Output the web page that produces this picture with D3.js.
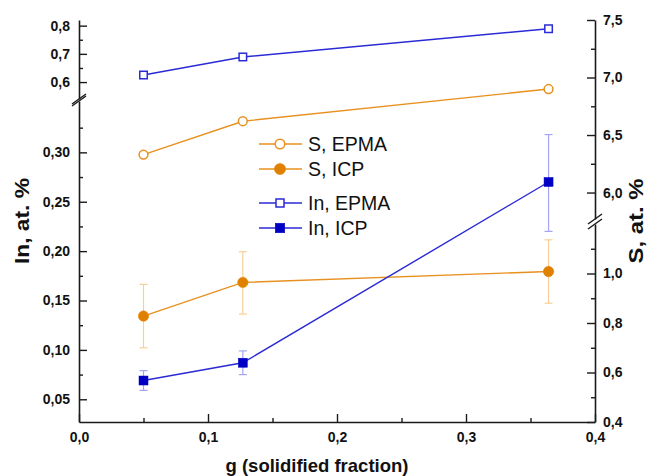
<!DOCTYPE html>
<html>
<head>
<meta charset="utf-8">
<script src="https://cdn.jsdelivr.net/npm/d3@7"></script>
<style>
body { margin: 0; background: #fff; }
text { font-family: Arial, "Liberation Sans", sans-serif; }
</style>
</head>
<body>
<div id="root"></div>
<script>
var width = 648;
var height = 476;

// data
var gValues = [0.05, 0.127, 0.364];

var inEpma = [0.625, 0.689, 0.789];
var inIcp = [0.069, 0.087, 0.270];
var inIcpLow = [0.059, 0.075, 0.220];
var inIcpHigh = [0.079, 0.099, 0.318];

var sEpma = [6.33, 6.62, 6.90];
var sIcp = [0.828, 0.964, 1.008];
var sIcpLow = [0.70, 0.836, 0.88];
var sIcpHigh = [0.956, 1.088, 1.136];

var legendNames = ["S, EPMA", "S, ICP", "In, EPMA", "In, ICP"];

var xTicks = [0, 0.1, 0.2, 0.3, 0.4];
var xMinor = [0.05, 0.15, 0.25, 0.35];
var leftLowTicks = [0.05, 0.10, 0.15, 0.20, 0.25, 0.30];
var leftLowMinor = [0.075, 0.125, 0.175, 0.225, 0.275, 0.325];
var leftHighTicks = [0.6, 0.7, 0.8];
var leftHighMinor = [0.65, 0.75];
var rightLowTicks = [0.4, 0.6, 0.8, 1.0];
var rightLowMinor = [0.5, 0.7, 0.9, 1.1];
var rightHighTicks = [6.0, 6.5, 7.0, 7.5];
var rightHighMinor = [6.25, 6.75, 7.25];

var orange = "#e8901e";
var orangeDark = "#e08000";
var orangeLight = "#f8cf98";
var blue = "#2a2ad6";
var blueDark = "#0000c4";
var blueLight = "#a4a4f2";
var axisColor = "#1a1a1a";

var locale = d3.formatLocale({decimal: ",", thousands: ".", grouping: [3], currency: ["", ""]});
var f1 = locale.format(".1f");
var f2 = locale.format(".2f");

var svg = d3.select("#root")
.append("svg")
.attr("width", width)
.attr("height", height);

var x = d3.scaleLinear().domain([0, 0.4]).range([79, 595]);

/* broken axes: two linear pieces on each side */
var yInLow = d3.scaleLinear().domain([0.027, 0.352]).range([422, 101]);
var yInHigh = d3.scaleLinear().domain([0.54, 0.82]).range([99, 20]);
var ySLow = d3.scaleLinear().domain([0.4, 1.2]).range([422, 224]);
var ySHigh = d3.scaleLinear().domain([5.77, 7.5]).range([219, 20]);

function styleAxis(g) {
	g.selectAll("path").attr("stroke", axisColor).attr("stroke-width", 1.6);
	g.selectAll("line").attr("stroke", axisColor).attr("stroke-width", 1.4);
	g.selectAll("text")
	.attr("font-size", "14px")
	.attr("font-weight", "bold")
	.attr("fill", "#111");
}

function drawAxis(axisFn, scale, major, minor, fmt, transform, pad) {
	var g = svg.append("g").attr("transform", transform);
	g.call(axisFn(scale).tickValues(major).tickFormat(fmt).tickSize(-8).tickSizeOuter(0).tickPadding(pad))
	.call(styleAxis);
	var m = svg.append("g").attr("transform", transform);
	m.call(axisFn(scale).tickValues(minor).tickFormat("").tickSize(-4).tickSizeOuter(0))
	.call(styleAxis);
	m.select("path").remove();
	return g;
}

drawAxis(d3.axisBottom, x, xTicks, xMinor, f1, "translate(0,422)", 10);
drawAxis(d3.axisLeft, yInLow, leftLowTicks, leftLowMinor, f2, "translate(79,0)", 9);
drawAxis(d3.axisLeft, yInHigh, leftHighTicks, leftHighMinor, f1, "translate(79,0)", 9);
drawAxis(d3.axisRight, ySLow, rightLowTicks, rightLowMinor, f1, "translate(595,0)", 8);
drawAxis(d3.axisRight, ySHigh, rightHighTicks, rightHighMinor, f1, "translate(595,0)", 8);

// break marks
function breakMark(cx, y0, y1) {
	[y0, y1].forEach(function(yy) {
		svg.append("line")
		.attr("x1", cx - 7).attr("y1", yy + 5)
		.attr("x2", cx + 7).attr("y2", yy - 5)
		.attr("stroke", axisColor)
		.attr("stroke-width", 1.4);
	});
}
breakMark(79, yInHigh.range()[0], yInLow.range()[1]);
breakMark(595, ySHigh.range()[0], ySLow.range()[1]);

// axis titles
svg.append("text")
.attr("x", (x.range()[0] + x.range()[1]) / 2 - 20)
.attr("y", 472)
.attr("text-anchor", "middle")
.attr("font-size", "18.5px")
.attr("font-weight", "bold")
.attr("fill", "#111")
.text("g (solidified fraction)");

svg.append("text")
.attr("transform", "translate(29,221) rotate(-90)")
.attr("text-anchor", "middle")
.attr("font-size", "19.5px")
.attr("font-weight", "bold")
.attr("fill", "#111")
.attr("textLength", 86)
.attr("lengthAdjust", "spacingAndGlyphs")
.text("In, at. %");

svg.append("text")
.attr("transform", "translate(643,221) rotate(-90)")
.attr("text-anchor", "middle")
.attr("font-size", "19.5px")
.attr("font-weight", "bold")
.attr("fill", "#111")
.attr("textLength", 85)
.attr("lengthAdjust", "spacingAndGlyphs")
.text("S, at. %");

// error bars
function errorBars(low, high, scale, color) {
	var g = svg.append("g").attr("stroke", color).attr("stroke-width", 1.2);
	gValues.forEach(function(gv, i) {
		var cx = x(gv);
		g.append("line").attr("x1", cx).attr("x2", cx).attr("y1", scale(low[i])).attr("y2", scale(high[i]));
		g.append("line").attr("x1", cx - 4).attr("x2", cx + 4).attr("y1", scale(low[i])).attr("y2", scale(low[i]));
		g.append("line").attr("x1", cx - 4).attr("x2", cx + 4).attr("y1", scale(high[i])).attr("y2", scale(high[i]));
	});
}
errorBars(sIcpLow, sIcpHigh, ySLow, orangeLight);
errorBars(inIcpLow, inIcpHigh, yInLow, blueLight);

function series(values, scale, color) {
	var line = d3.line()
	.x(function(d, i) { return x(gValues[i]); })
	.y(function(d) { return scale(d); });
	svg.append("path")
	.datum(values)
	.attr("fill", "none")
	.attr("stroke", color)
	.attr("stroke-width", 1.4)
	.attr("d", line);
}
series(sEpma, ySHigh, orange);
series(sIcp, ySLow, orange);
series(inEpma, yInHigh, blue);
series(inIcp, yInLow, blue);

function circleMark(g, cx, cy, filled, r) {
	g.append("circle")
	.attr("cx", cx).attr("cy", cy)
	.attr("r", filled ? r + 0.8 : r)
	.attr("fill", filled ? orangeDark : "#fff")
	.attr("stroke", filled ? orangeDark : orange)
	.attr("stroke-width", filled ? 0.5 : 1.5);
}
function squareMark(g, cx, cy, filled, s) {
	if (filled) s = s + 1.5;
	g.append("rect")
	.attr("x", cx - s / 2).attr("y", cy - s / 2)
	.attr("width", s).attr("height", s)
	.attr("fill", filled ? blueDark : "#fff")
	.attr("stroke", filled ? blueDark : blue)
	.attr("stroke-width", filled ? 0.5 : 1.5);
}

var marks = svg.append("g");
gValues.forEach(function(gv, i) {
	circleMark(marks, x(gv), ySHigh(sEpma[i]), false, 4.4);
	circleMark(marks, x(gv), ySLow(sIcp[i]), true, 4.4);
	squareMark(marks, x(gv), yInHigh(inEpma[i]), false, 7.5);
	squareMark(marks, x(gv), yInLow(inIcp[i]), true, 7.5);
});

// legend
var legendRows = [144, 169, 203, 228];
var legend = svg.append("g");
legendNames.forEach(function(name, i) {
	var yy = legendRows[i];
	var col = i < 2 ? orange : blue;
	legend.append("line")
	.attr("x1", 259).attr("x2", 302)
	.attr("y1", yy).attr("y2", yy)
	.attr("stroke", col)
	.attr("stroke-width", 1.4);
	if (i < 2) {
		circleMark(legend, 280, yy, i == 1, 4.8);
	} else {
		squareMark(legend, 280, yy, i == 3, 8);
	}
	legend.append("text")
	.attr("x", 308)
	.attr("y", yy + 7)
	.attr("font-size", "19.5px")
	.attr("fill", "#111")
	.text(name);
});
</script>
</body>
</html>
